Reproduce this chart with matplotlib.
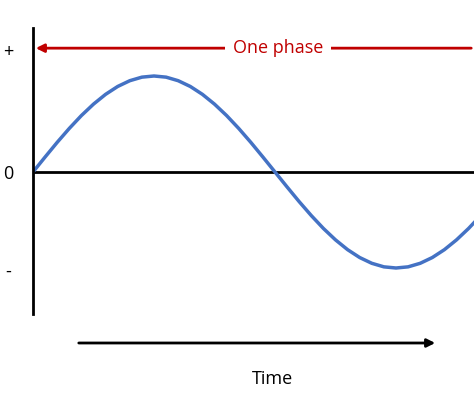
import matplotlib.pyplot as plt

# wave, one point every 9 degrees
phase_deg = list(range(0, 334, 9))
amplitude = [0, .156, .309, .454, .588, .707, .809, .891, .951, .988, 1,
             .988, .951, .891, .809, .707, .588, .454, .309, .156, 0,
             -.156, -.309, -.454, -.588, -.707, -.809, -.891, -.951, -.988, -1,
             -.988, -.951, -.891, -.809, -.707, -.588, -.454]
tick_pos = [1.27, 0, -1.02]
tick_labels = ["+", "0", "-"]

plt.rcParams["font.family"] = ["Open Sans", "DejaVu Sans"]

fig = plt.figure(figsize=(4.74, 4.09), dpi=100)
ax = fig.add_axes([33 / 474, 95 / 409, 441 / 474, 286 / 409])
ax.set_xlim(0, 441 / 242 * 180)
ax.set_ylim(-142 / 96, 144 / 96)
for s in ["top", "right", "bottom"]:
    ax.spines[s].set_visible(False)
ax.spines["left"].set_linewidth(2)
ax.axhline(0, color="black", lw=2)
ax.plot(phase_deg, amplitude, color="#4472C4", lw=2.5)

ax.set_xticks([])
ax.set_yticks(tick_pos)
ax.set_yticklabels(tick_labels, fontsize=13)
ax.tick_params(axis="y", length=0, pad=8)
for lab in ax.get_yticklabels():
    lab.set_horizontalalignment("center")
ax.yaxis.set_tick_params(pad=18)

# one phase arrow
ax.annotate("", xy=(0, 1.29), xytext=(441 / 242 * 180, 1.29),
            arrowprops=dict(arrowstyle="-|>", color="#C00000", lw=2, mutation_scale=12),
            annotation_clip=False)
ax.text((278 - 33) / 242 * 180, 1.29, "One phase", color="#C00000", fontsize=13,
        ha="center", va="center", bbox=dict(fc="white", ec="none", pad=6))

# time arrow
fig.patches.append(plt.matplotlib.patches.FancyArrowPatch(
    (76 / 474, 1 - 343 / 409), (438 / 474, 1 - 343 / 409), transform=fig.transFigure,
    arrowstyle="-|>", color="black", lw=2, mutation_scale=12))
fig.text(273 / 474, 1 - 379 / 409, "Time", fontsize=13, ha="center", va="center")

fig.savefig("out.png")
